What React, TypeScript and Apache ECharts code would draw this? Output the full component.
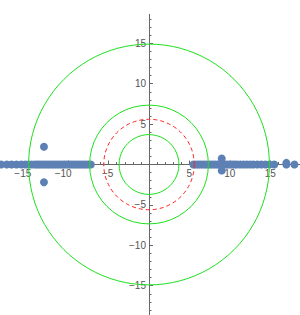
import React, { useEffect, useRef } from "react";
import * as echarts from "echarts";

// On-axis points (y = 0)
const leftXs = [-18.3, -17.6, -17.0, -16.4, -15.8, -15.3, -14.9, -14.5, -14.1, -13.8, -13.5, -13.2, -12.9, -12.6, -12.3, -12.0, -11.7, -11.4, -11.1, -10.8, -10.5, -10.2, -9.9, -9.6, -9.3, -9.0, -8.7, -8.4, -8.1, -7.8, -7.5, -7.2];
const rightXs = [5.5, 5.8, 6.1, 6.4, 6.7, 7.0, 7.3, 7.6, 7.9, 8.2, 8.5, 8.8, 9.1, 9.4, 9.7, 10.0, 10.3, 10.6, 10.9, 11.3, 11.7, 12.1, 12.5, 12.9, 13.4, 13.9, 14.4, 14.9, 15.5, 17.0, 18.0];
// Off-axis points
const offX = [-13.0, -13.0, 9.0, 9.0, 17.0];
const offY = [2.2, -2.2, 0.75, -0.75, 0.2];
// Circles
const greenRadii = [3.7, 7.35, 14.9];
const redRadii = [5.6];

const K = 8.08; // px per unit
const OX = 149;
const OY = 164.5;
const HALF = 20;

function fmtX(v: number) {
  if (v === 0 || Math.abs(v) >= HALF) return "";
  if (v < 0) {
    const pad = v <= -10 ? "a" : "b";
    return "{" + pad + "|\u2212" + Math.abs(v) + "}";
  }
  return String(v);
}
function fmtY(v: number) {
  if (v === 0 || Math.abs(v) >= HALF) return "";
  if (v < 0) return "\u2212" + Math.abs(v);
  return String(v);
}

export default function App() {
  const ref = useRef<HTMLDivElement>(null);
  useEffect(() => {
    const chart = echarts.init(ref.current!, undefined, { renderer: "svg" });
    const pts: number[][] = [];
    leftXs.forEach((x) => pts.push([x, 0]));
    rightXs.forEach((x) => pts.push([x, 0]));
    offX.forEach((x, i) => pts.push([x, offY[i]]));

    const circleItem = (color: string, dash: number[] | null) => (params: any, api: any) => {
      const c = api.coord([0, 0]);
      const s = api.size([api.value(2), api.value(2)]);
      return {
        type: "circle",
        shape: { cx: c[0], cy: c[1], r: s[0] },
        style: { fill: "none", stroke: color, lineWidth: 1, lineDash: dash || undefined },
      };
    };

    const axisCommon = {
      type: "value" as const,
      min: -HALF,
      max: HALF,
      interval: 5,
      offset: -HALF * K,
      splitLine: { show: false },
      axisLine: { onZero: false, lineStyle: { color: "#666", width: 1 } },
      axisTick: { show: true, inside: true, length: 4, lineStyle: { color: "#666" } },
      minorTick: { show: true, splitNumber: 5, length: 2.5, lineStyle: { color: "#666" } },
    };

    chart.setOption({
      animation: false,
      grid: {
        left: OX - HALF * K,
        top: OY - HALF * K,
        width: 2 * HALF * K,
        height: 2 * HALF * K,
        containLabel: false,
        outerBoundsMode: "none",
      },
      xAxis: {
        ...axisCommon,
        position: "bottom",
        axisLabel: {
          margin: 4,
          fontSize: 10,
          color: "#555",
          fontFamily: "Liberation Sans, Arial, sans-serif",
          formatter: fmtX,
          rich: {
            a: { fontSize: 10, color: "#555", padding: [0, 10, 0, 0], fontFamily: "Liberation Sans, Arial, sans-serif" },
            b: { fontSize: 10, color: "#555", padding: [0, 2, 0, 0], fontFamily: "Liberation Sans, Arial, sans-serif" },
          },
        },
      },
      yAxis: {
        ...axisCommon,
        position: "left",
        axisLabel: {
          margin: 3,
          fontSize: 10,
          color: "#555",
          fontFamily: "Liberation Sans, Arial, sans-serif",
          formatter: fmtY,
        },
      },
      series: [
        {
          type: "scatter",
          data: pts,
          symbolSize: 8,
          itemStyle: { color: "#5E81B5", opacity: 1 },
          z: 2,
        },
        {
          type: "custom",
          data: greenRadii.map((r) => [0, 0, r]),
          renderItem: circleItem("#1ee01e", null),
          z: 3,
          clip: false,
        },
        {
          type: "custom",
          data: redRadii.map((r) => [0, 0, r]),
          renderItem: circleItem("#ff2020", [4, 3]),
          z: 3,
          clip: false,
        },
      ],
      graphic: [
        {
          type: "rect",
          shape: { x: 130, y: 0, width: 40, height: 14 },
          style: { fill: "#fff" },
          z: 100,
        },
      ],
    });
    return () => chart.dispose();
  }, []);
  return <div ref={ref} style={{ position: "absolute", left: 0, top: 0, width: 300, height: 315 }} />;
}
